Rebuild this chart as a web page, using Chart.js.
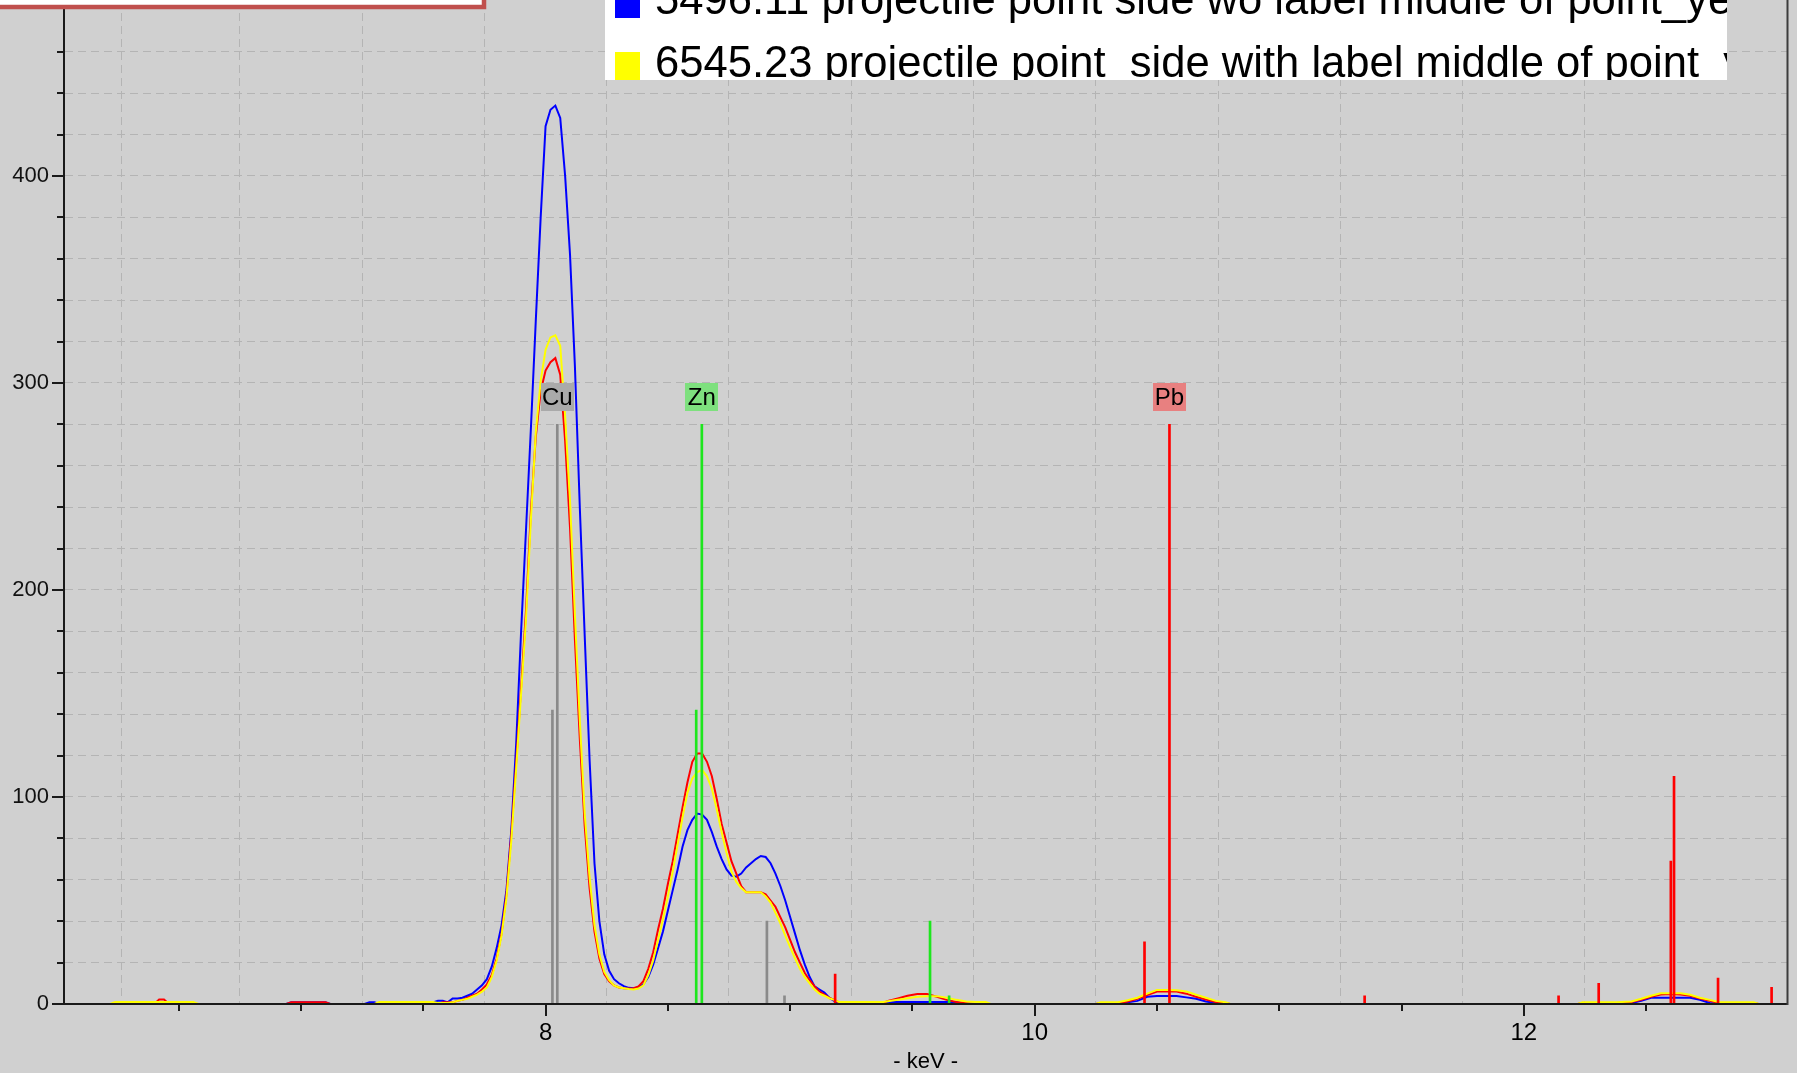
<!DOCTYPE html>
<html lang="en">
<head>
  <meta charset="UTF-8">
  <title>XRF spectrum - Cu / Zn / Pb</title>
  <script src="https://cdn.jsdelivr.net/npm/chart.js"></script>
  <style>
    html, body { margin: 0; padding: 0; background: #d0d0d0; overflow: hidden; }
    canvas { display: block; }
  </style>
</head>
<body>
  <canvas id="spectrum" width="1797" height="1073"></canvas>

  <script>
    // energy of each channel (keV)
    const energy = [
      6.04, 6.22, 6.24, 6.38, 6.40, 6.42, 6.44, 6.46, 6.56, 6.58, 6.94, 6.96, 7.02, 7.10, 7.12, 7.26, 7.28, 7.30, 7.32, 7.40, 7.48,
      7.50, 7.52, 7.54, 7.56, 7.58, 7.60, 7.62, 7.64, 7.66, 7.68,
      7.70, 7.72, 7.74, 7.76, 7.78, 7.80, 7.82, 7.84, 7.86, 7.88,
      7.90, 7.92, 7.94, 7.96, 7.98, 8.00, 8.02, 8.04, 8.06, 8.08,
      8.10, 8.12, 8.14, 8.16, 8.18, 8.20, 8.22, 8.24, 8.26, 8.28,
      8.30, 8.32, 8.34, 8.36, 8.38, 8.40, 8.42, 8.44, 8.46, 8.48,
      8.50, 8.52, 8.54, 8.56, 8.58, 8.60, 8.62, 8.64, 8.66, 8.68,
      8.70, 8.72, 8.74, 8.76, 8.78, 8.80, 8.82, 8.84, 8.86, 8.88,
      8.90, 8.92, 8.94, 8.96, 8.98, 9.00, 9.02, 9.04, 9.06, 9.08,
      9.10, 9.12, 9.14, 9.16, 9.18, 9.20,
      9.22, 9.30, 9.38, 9.40, 9.44, 9.48, 9.52, 9.56, 9.60, 9.64, 9.68, 9.72, 9.76, 9.80, 9.82,
      10.25, 10.27, 10.34, 10.38, 10.42, 10.46, 10.50, 10.54, 10.58, 10.62, 10.66, 10.70, 10.74, 10.78, 10.80,
      12.22, 12.24, 12.30, 12.38, 12.44, 12.48, 12.52, 12.56, 12.60, 12.64, 12.68, 12.72, 12.76, 12.80, 12.86, 12.94, 12.96, 13.06
    ];

    // 5496.11 projectile point side wo label (blue)
    const countsBlue = [
      0, 0, 0, 0, 0.4, 0.4, 0, 0, 0, 0, 0, 0.8, 0.8, 0.8, 0, 0, 0.8, 0.8, 0, 0, 0,
      0.8, 0.8, 0.8, 1.6, 1.6, 0.8, 2.7, 2.7, 3, 4,
      5, 7, 9, 12, 18, 27, 38, 55, 84, 126,
      180, 229, 278, 330, 380, 424, 432, 434, 428, 400,
      362, 308, 240, 178, 118, 68, 40, 24, 16, 12,
      10, 8.6, 7.8, 7.6, 8, 9.5, 13, 19, 27, 35,
      45, 55, 65, 76, 84, 89, 92, 91.5, 89, 83,
      76, 70, 65, 62, 61.5, 63, 66, 68, 70, 71.5,
      71, 68, 63, 57, 50, 42, 34, 26, 19, 13,
      8.5, 7, 5.5, 3, 1.5, 0,
      0, 0, 0, 1, 1, 1, 1, 1, 1, 1, 0.8, 0, 0, 0, 0,
      0, 0, 0, 0.8, 1.5, 3.5, 3.9, 3.9, 3.9, 3.2, 2.5, 1.2, 0.5, 0, 0,
      0, 0, 0, 0, 0.5, 1.5, 3, 3, 3, 3, 3, 2, 0.5, 0, 0, 0, 0, 0
    ];

    // reference spectrum (red)
    const countsRed = [
      0, 0, 0, 0, 0, 2.2, 2.2, 0, 0, 0, 0, 0.8, 0.8, 0.8, 0, 0, 0, 0, 0, 0, 0,
      0, 0, 0, 0, 0.8, 0.8, 0.8, 1.5, 2, 3,
      4, 5, 7, 9.5, 14, 22, 34, 53, 82, 117,
      153, 190, 238, 274, 296, 306, 310, 312, 304, 272,
      230, 176, 128, 86, 56, 35, 22, 14.5, 11, 9,
      8, 7.6, 7.5, 7.6, 8.5, 11, 17, 25, 36, 46,
      58, 69, 82, 95, 107, 117, 121, 121, 117, 110,
      99, 87, 78, 69, 63, 57, 54, 54, 54, 54,
      53, 50, 47, 42, 37, 31, 25, 20, 15, 11.5,
      8.5, 6, 4.5, 3, 2, 0.8,
      0, 0, 0.5, 1.5, 2.7, 4, 4.8, 4.8, 3.5, 2, 1, 0.5, 0, 0, 0,
      0, 0.5, 0.5, 1.2, 2.5, 4.3, 6, 6.2, 6, 5, 3.5, 2.2, 1, 0.5, 0,
      0, 0.5, 0.5, 0.5, 1, 2, 3.5, 4.6, 4.8, 4.6, 4, 2.6, 1.6, 0.5, 0.5, 0.5, 0, 0
    ];

    // 6545.23 projectile point side with label (yellow)
    const countsYellow = [
      0, 0, 1, 1, 1, 1, 1, 1, 1, 0, 0, 0, 0, 0, 0, 0, 0, 0, 1, 1, 1,
      1, 1, 1, 0.5, 0.5, 0.5, 0.8, 1.5, 2, 2.5,
      3.5, 4.5, 6, 8, 13, 21, 33, 51, 79, 114,
      150, 186, 234, 276, 301, 316, 322, 323, 318, 284,
      243, 188, 137, 92, 61, 38, 24, 15.5, 11.5, 9,
      8, 7.6, 7.2, 7, 7.5, 9, 14, 21, 31, 41,
      52, 64, 77, 90, 102, 109, 112, 113, 110, 104,
      94, 83, 73, 64, 59, 56, 54, 54, 54, 54,
      52, 49, 44, 39, 33, 27.5, 22, 17, 13, 10,
      7, 5, 4, 2.8, 2, 1,
      1, 1, 1, 1.3, 2, 2.8, 3.5, 3.8, 3.8, 3, 2, 1.2, 1, 1, 0,
      0, 0.8, 0.8, 1.8, 3, 5, 6.8, 6.8, 6.6, 6, 4.5, 3, 1.5, 0.8, 0,
      0, 0.8, 0.8, 0.8, 1.2, 2.5, 4, 5.2, 5.2, 5.2, 4.5, 3, 2, 0.8, 0.8, 0.8, 0, 0
    ];

    // element emission lines (keV, relative height)
    const cuEnergy = [8.028, 8.048, 8.905, 8.977];
    const cuHeight = [142, 280, 40, 4];
    const znEnergy = [8.616, 8.639, 9.572, 9.650];
    const znHeight = [142, 280, 40, 4];
    const pbEnergy = [9.184, 10.449, 10.551, 11.349, 12.142, 12.306, 12.601, 12.614, 12.794, 13.013];
    const pbHeight = [14.5, 30, 280, 4, 4, 10, 69, 110, 12.5, 8];

    const elementNames = ['Cu', 'Zn', 'Pb'];
    const elementPeak = [cuEnergy[1], znEnergy[1], pbEnergy[2]];
    const elementColors = ['#aaaaaa', '#7ee07e', '#e88080'];

    const legendLabels = [
      '5496.11 projectile point side wo label middle of point_yellow',
      '6545.23 projectile point  side with label middle of point  yellow'
    ];
    const legendColors = ['#0000ff', '#ffff00'];

    const xLabeled = [8, 10, 12];
    const yLabeled = [0, 100, 200, 300, 400];

    const FONT = "'Liberation Sans Narrow', 'Liberation Sans', Arial, sans-serif";
    const gridColor = '#b4b4b4';
    const axisColor = '#1a1a1a';

    function isHalfStep(v) {
      return Math.abs(v * 2 - Math.round(v * 2)) < 1e-6;
    }

    function spectrum(counts, color, order) {
      return {
        type: 'line',
        data: energy.map((e, i) => ({ x: e, y: counts[i] })),
        borderColor: color,
        borderWidth: 2,
        pointRadius: 0,
        tension: 0,
        fill: false,
        order: order
      };
    }

    function emission(xs, hs, color, width) {
      return {
        type: 'bar',
        data: xs.map((e, i) => ({ x: e, y: hs[i] })),
        backgroundColor: color,
        borderWidth: 0,
        barThickness: width,
        maxBarThickness: width,
        grouped: false,
        order: 0
      };
    }

    // scales reserve half a label + padding at their ends; the plot runs edge to edge here
    function noEndPadding(s) {
      s.paddingTop = 0;
      s.paddingBottom = 0;
      s.paddingLeft = 0;
      s.paddingRight = 0;
    }

    const decor = {
      id: 'decor',
      beforeDraw(chart) {
        const { ctx, width, height } = chart;
        ctx.save();
        ctx.fillStyle = '#d0d0d0';
        ctx.fillRect(0, 0, width, height);
        ctx.restore();
      },
      afterDraw(chart) {
        const { ctx, chartArea } = chart;
        const xs = chart.scales.x;
        const ys = chart.scales.y;
        ctx.save();

        // tick marks, longer where labelled
        ctx.strokeStyle = axisColor;
        ctx.lineWidth = 2;
        ctx.beginPath();
        xs.ticks.forEach(t => {
          if (!isHalfStep(t.value)) return;
          const px = Math.round(xs.getPixelForValue(t.value));
          const len = xLabeled.includes(t.value) ? 12 : 7;
          ctx.moveTo(px, chartArea.bottom);
          ctx.lineTo(px, chartArea.bottom + len);
        });
        ys.ticks.forEach(t => {
          if (t.value % 20 !== 0) return;
          const py = Math.round(ys.getPixelForValue(t.value));
          const len = yLabeled.includes(t.value) ? 12 : 7;
          ctx.moveTo(chartArea.left - len, py);
          ctx.lineTo(chartArea.left, py);
        });
        ctx.stroke();

        // right frame
        ctx.strokeStyle = '#3c3c3c';
        ctx.beginPath();
        ctx.moveTo(chartArea.right, 0);
        ctx.lineTo(chartArea.right, chartArea.bottom + 1);
        ctx.stroke();

        // element tags above the main lines
        const tagTop = ys.getPixelForValue(280) - 41;
        ctx.font = '24px ' + FONT;
        ctx.textAlign = 'center';
        ctx.textBaseline = 'middle';
        elementNames.forEach((name, i) => {
          const px = xs.getPixelForValue(elementPeak[i]);
          ctx.fillStyle = elementColors[i];
          ctx.fillRect(Math.round(px - 16.5), Math.round(tagTop), 33, 28);
          ctx.fillStyle = '#000';
          ctx.fillText(name, px, Math.round(tagTop) + 15);
        });

        // legend box (cut by the top of the picture)
        const lx = 605, lr = 1727, lb = 80;
        ctx.fillStyle = '#ffffff';
        ctx.fillRect(lx, 0, lr - lx, lb);
        ctx.save();
        ctx.beginPath();
        ctx.rect(lx, 0, lr - lx, lb);
        ctx.clip();
        ctx.fillStyle = legendColors[0];
        ctx.fillRect(615, -10, 25, 28);
        ctx.fillStyle = legendColors[1];
        ctx.fillRect(615, 52, 25, 30);
        ctx.font = '44px ' + FONT;
        ctx.textAlign = 'left';
        ctx.textBaseline = 'alphabetic';
        const ref = ctx.measureText('6545.23 projectile point  side with label middle of point').width;
        const sx = 1044 / ref;
        const baselines = [14, 77];
        legendLabels.forEach((txt, i) => {
          ctx.save();
          ctx.translate(655, baselines[i]);
          ctx.scale(sx, 1);
          ctx.fillStyle = '#000';
          ctx.fillText(txt, 0, 0);
          ctx.restore();
        });
        ctx.restore();

        // bottom edge of the red framed box top-left
        ctx.fillStyle = '#ffffff';
        ctx.fillRect(-10, -10, 494, 17);
        ctx.strokeStyle = '#c0504d';
        ctx.lineWidth = 4.5;
        ctx.strokeRect(-10, -10, 494, 17);

        ctx.restore();
      }
    };

    new Chart(document.getElementById('spectrum'), {
      type: 'line',
      data: {
        datasets: [
          emission(cuEnergy, cuHeight, '#8a8a8a', 2),
          emission(znEnergy, znHeight, '#1ee61e', 2),
          emission(pbEnergy, pbHeight, '#ff0000', 2),
          spectrum(countsYellow, '#ffff00', 1),
          spectrum(countsRed, '#ff0000', 2),
          spectrum(countsBlue, '#0000ff', 3)
        ]
      },
      options: {
        responsive: false,
        animation: false,
        devicePixelRatio: 1,
        layout: { autoPadding: false, padding: { left: 0, right: 9.5, top: 0, bottom: 0 } },
        plugins: { legend: { display: false }, tooltip: { enabled: false } },
        scales: {
          x: {
            type: 'linear',
            min: 6.031,
            max: 13.078,
            offset: false,
            grid: {
              color: c => (c.tick && isHalfStep(c.tick.value)) ? gridColor : 'rgba(0,0,0,0)',
              lineWidth: 1,
              drawTicks: false
            },
            border: { display: true, color: axisColor, width: 2, dash: [8, 5], z: 1 },
            ticks: {
              stepSize: 0.5,
              autoSkip: false,
              maxRotation: 0,
              padding: 15,
              color: '#000',
              font: { family: FONT, size: 24 },
              callback: v => xLabeled.includes(v) ? String(v) : ''
            },
            title: {
              display: true,
              text: '- keV -',
              color: '#000',
              font: { family: FONT, size: 22, lineHeight: 1 },
              padding: { top: 0, bottom: 0 }
            },
            afterFit: s => { s.height = 69; noEndPadding(s); }
          },
          y: {
            min: 0,
            max: 485,
            grid: {
              color: c => (c.tick && c.tick.value > 0 && c.tick.value % 20 === 0) ? gridColor : 'rgba(0,0,0,0)',
              lineWidth: 1,
              drawTicks: false
            },
            border: { display: true, color: axisColor, width: 2, dash: [8, 5], z: 1 },
            ticks: {
              stepSize: 20,
              autoSkip: false,
              padding: 15,
              color: '#111',
              font: { family: FONT, size: 22 },
              callback: v => yLabeled.includes(v) ? String(v) : ''
            },
            afterFit: s => { s.width = 64; noEndPadding(s); }
          }
        }
      },
      plugins: [decor]
    });
  </script>
</body>
</html>
